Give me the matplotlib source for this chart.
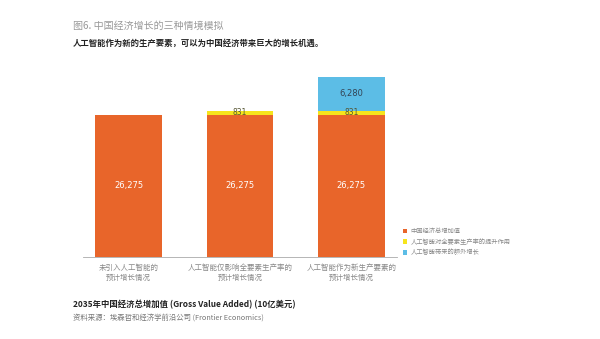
import matplotlib
matplotlib.use("Agg")
import matplotlib.pyplot as plt
from matplotlib.patches import Patch

plt.rcParams["font.family"] = ["Noto Sans CJK SC", "DejaVu Sans"]

# === Data ===
categories = ["未引入人工智能的\n预计增长情况",
              "人工智能仅影响全要素生产率的\n预计增长情况",
              "人工智能作为新生产要素的\n预计增长情况"]
base_gva = [26275, 26275, 26275]
tfp_boost = [0, 831, 831]
extra_growth = [0, 0, 6280]
series_names = ["中国经济总增加值",
                "人工智能对全要素生产率的提升作用",
                "人工智能带来的额外增长"]

COLORS = ["#E8652A", "#F6E51C", "#5CBDE6"]


def fmt(v):
    return f"{v:,}"


def main():
    fig = plt.figure(figsize=(6.0, 3.39), dpi=100)
    ax = fig.add_axes([83 / 600, 1 - 257 / 339, 314 / 600, 187 / 339])

    x = list(range(len(categories)))
    w = 0.6
    ax.bar(x, base_gva, width=w, color=COLORS[0], linewidth=0)
    ax.bar(x, tfp_boost, width=w, bottom=base_gva, color=COLORS[1], linewidth=0)
    bottom2 = [a + b for a, b in zip(base_gva, tfp_boost)]
    ax.bar(x, extra_growth, width=w, bottom=bottom2, color=COLORS[2], linewidth=0)

    # value labels
    for i in x:
        ax.text(i, base_gva[i] / 2, fmt(base_gva[i]), ha="center", va="center",
                color="white", fontsize=6, family="DejaVu Sans")
        if tfp_boost[i]:
            ax.text(i, base_gva[i] + tfp_boost[i] / 2, fmt(tfp_boost[i]), ha="center",
                    va="center", color="#555533", fontsize=5.5, family="DejaVu Sans")
        if extra_growth[i]:
            ax.text(i, bottom2[i] + extra_growth[i] / 2, fmt(extra_growth[i]), ha="center",
                    va="center", color="#334455", fontsize=6, family="DejaVu Sans")

    ax.set_xlim(-0.41, 2.41)
    ax.set_ylim(0, 34600)
    ax.set_xticks(x)
    ax.set_xticklabels(categories, fontsize=5.4, color="#888888", linespacing=1.25)
    ax.tick_params(axis="x", length=0, pad=5)
    ax.set_yticks([])
    for s in ["top", "right", "left"]:
        ax.spines[s].set_visible(False)
    ax.spines["bottom"].set_color("#aaaaaa")
    ax.spines["bottom"].set_linewidth(0.6)

    handles = [Patch(facecolor=c, edgecolor="none") for c in COLORS]
    fig.legend(handles, series_names, loc="upper left",
               bbox_to_anchor=(403 / 600, 1 - 227 / 339), frameon=False,
               fontsize=4.5, labelcolor="#888888", handlelength=0.7, handleheight=0.7,
               handletextpad=0.5, labelspacing=0.45, borderpad=0, borderaxespad=0)

    fig.text(73 / 600, 1 - 26 / 339, "图6. 中国经济增长的三种情境模拟",
             fontsize=7.2, color="#999999", va="center")
    fig.text(73 / 600, 1 - 43 / 339, "人工智能作为新的生产要素，可以为中国经济带来巨大的增长机遇。",
             fontsize=6, fontweight="bold", color="#222222", va="center")
    fig.text(73 / 600, 1 - 305 / 339, "2035年中国经济总增加值 (Gross Value Added) (10亿美元)",
             fontsize=6, fontweight="bold", color="#222222", va="center")
    fig.text(73 / 600, 1 - 319 / 339, "资料来源：埃森哲和经济学前沿公司 (Frontier Economics)",
             fontsize=5.3, style="italic", color="#777777", va="center")

    fig.savefig("out.png", dpi=100, facecolor="white")


if __name__ == "__main__":
    main()
